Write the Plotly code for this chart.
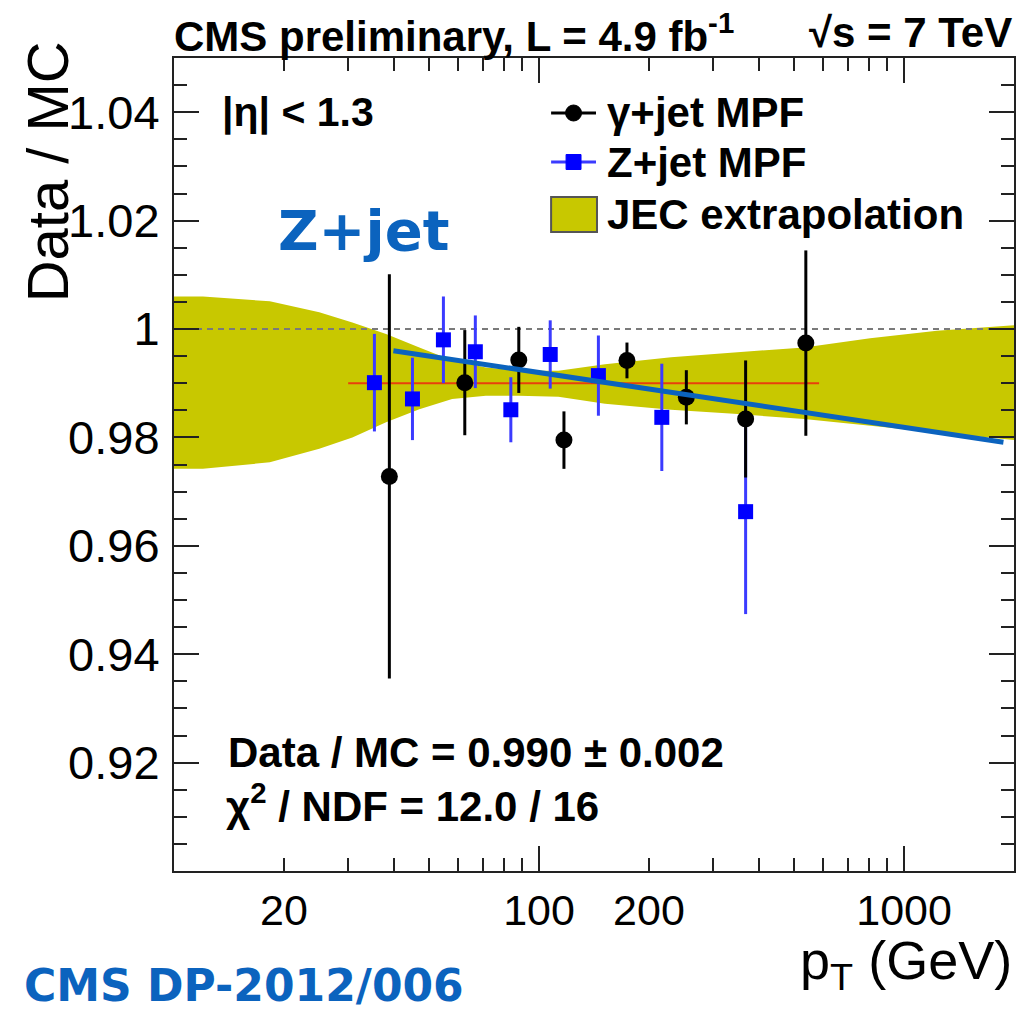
import plotly.graph_objects as go

# ---------------- data ----------------
# JEC extrapolation band (pT, upper, lower)
band_pt = [10, 12, 18.3, 25, 30.8, 38.1, 47, 57.8, 71.5, 88, 113, 151.6, 230, 350, 532, 807, 1230, 2000]
band_hi = [1.0060, 1.0060, 1.0051, 1.0031, 1.0012, 0.9991, 0.9966, 0.9942, 0.9929, 0.9923,
           0.9923, 0.9935, 0.9948, 0.9957, 0.9966, 0.9983, 0.9997, 1.0007]
band_lo = [0.9742, 0.9742, 0.9754, 0.9779, 0.9800, 0.9828, 0.9852, 0.9871, 0.9877, 0.9877,
           0.9875, 0.9862, 0.9851, 0.9843, 0.9834, 0.9822, 0.9809, 0.9795]

# gamma+jet MPF
gam_pt = [38.9, 62.6, 88.0, 117, 174.1, 253.2, 368, 538]
gam_val = [0.9728, 0.9901, 0.9943, 0.9795, 0.9942, 0.9874, 0.9834, 0.9974]
gam_err = [0.0373, 0.0097, 0.0061, 0.0053, 0.0033, 0.0050, 0.0108, 0.0171]

# Z+jet MPF
z_pt = [35.4, 45.0, 54.7, 66.9, 83.7, 107.3, 145.4, 216.9, 368]
z_val = [0.9901, 0.9871, 0.9980, 0.9958, 0.9851, 0.9953, 0.9914, 0.9837, 0.9663]
z_err = [0.0090, 0.0076, 0.0080, 0.0067, 0.0060, 0.0063, 0.0074, 0.0099, 0.0189]

# constant fit and reference
fit_pt = [30, 585]
fit_val = [0.990, 0.990]
ref_pt = [10, 2000]
ref_val = [1.0, 1.0]

# hand-drawn Z+jet trend line
trend_pt = [39.9, 1871]
trend_val = [0.9960, 0.9791]

x_major_labels = [20, 100, 200, 1000]
x_minor = [30, 40, 50, 60, 70, 80, 90, 300, 400, 500, 600, 700, 800, 900, 2000]
y_tickvals = [0.92, 0.94, 0.96, 0.98, 1.00, 1.02, 1.04]
y_ticktext = ["0.92", "0.94", "0.96", "0.98", "1", "1.02", "1.04"]

# ---------------- layout geometry ----------------
W, H = 1018, 1012
L, R, T, B = 174, 1016, 58, 871


def px(x):
    return (x - L) / (R - L)


def py(y):
    return 1 - (y - T) / (B - T)


BAND = "#C8C800"
BLUE_ANN = "#0B63BE"
BOLD = "Liberation Sans"

fig = go.Figure()

fig.add_trace(go.Scatter(
    x=band_pt + band_pt[::-1], y=band_hi + band_lo[::-1],
    fill="toself", fillcolor=BAND, line=dict(width=0, color=BAND),
    mode="lines", hoverinfo="skip", showlegend=False))

fig.add_trace(go.Scatter(
    x=ref_pt, y=ref_val, mode="lines",
    line=dict(color="#7a7a7a", width=2, dash="6px,5px"), showlegend=False))

fig.add_trace(go.Scatter(
    x=fit_pt, y=fit_val, mode="lines",
    line=dict(color="#E8400C", width=2), showlegend=False))

fig.add_trace(go.Scatter(
    x=z_pt, y=z_val, mode="markers",
    marker=dict(symbol="square", size=15, color="#0000FF"),
    error_y=dict(type="data", array=z_err, color="#3b3bff", thickness=3, width=0),
    showlegend=False))

fig.add_trace(go.Scatter(
    x=gam_pt, y=gam_val, mode="markers",
    marker=dict(symbol="circle", size=17, color="black"),
    error_y=dict(type="data", array=gam_err, color="black", thickness=3, width=0),
    showlegend=False))

fig.add_trace(go.Scatter(
    x=trend_pt, y=trend_val, mode="lines",
    line=dict(color=BLUE_ANN, width=5), showlegend=False))

# second x axis for the long decade ticks
fig.add_trace(go.Scatter(x=[100], y=[None], xaxis="x2", showlegend=False, hoverinfo="skip"))

fig.update_layout(
    width=W, height=H,
    margin=dict(l=L, r=W - R, t=T, b=H - B),
    plot_bgcolor="white", paper_bgcolor="white",
    showlegend=False,
    xaxis=dict(
        type="log", range=[1, 3.30103],
        tickmode="array", tickvals=x_major_labels,
        ticktext=[str(v) for v in x_major_labels],
        ticks="inside", ticklen=13, tickwidth=2, tickcolor="#222",
        minor=dict(tickmode="array", tickvals=x_minor, ticks="inside", ticklen=13,
                   tickwidth=2, tickcolor="#222"),
        showline=True, linecolor="#222", linewidth=2, mirror="ticks",
        showgrid=False, zeroline=False,
        tickfont=dict(family="Liberation Sans", size=43, color="black"),
        ticklabelstandoff=0,
    ),
    xaxis2=dict(
        type="log", range=[1, 3.30103], overlaying="x", side="bottom",
        tickmode="array", tickvals=[100, 1000], showticklabels=False,
        ticks="inside", ticklen=25, tickwidth=2, tickcolor="#222",
        showline=False, mirror="ticks", showgrid=False, zeroline=False,
    ),
    yaxis=dict(
        range=[0.90, 1.05],
        tickmode="array", tickvals=y_tickvals, ticktext=y_ticktext,
        ticks="inside", ticklen=25, tickwidth=2, tickcolor="#222",
        minor=dict(dtick=0.005, tick0=0.9, ticks="inside", ticklen=13,
                   tickwidth=2, tickcolor="#222"),
        showline=True, linecolor="#222", linewidth=2, mirror="ticks",
        showgrid=False, zeroline=False,
        tickfont=dict(family="Liberation Sans", size=47, color="black"),
        ticklabelstandoff=3,
    ),
)

anns = []


def text(x, y, s, size, xanchor="left", color="black", family=BOLD, angle=0):
    anns.append(dict(x=px(x), y=py(y), xref="paper", yref="paper", text=s,
                     showarrow=False, xanchor=xanchor, yanchor="middle",
                     textangle=angle,
                     font=dict(family=family, size=size, color=color)))


text(172, 33, "<b>CMS preliminary, L = 4.9 fb<sup>-1</sup></b>", 42)
text(1016, 33, "<b>√s = 7 TeV</b>", 42, xanchor="right")
text(220, 112, "<b>|η| < 1.3</b>", 41)
text(606, 113, "<b>γ+jet MPF</b>", 42)
text(606, 162, "<b>Z+jet MPF</b>", 42)
text(606, 214, "<b>JEC extrapolation</b>", 42)
text(226, 752, "<b>Data / MC = 0.990 ± 0.002</b>", 42)
text(224, 803, "<b>χ<sup>2</sup> / NDF = 12.0 / 16</b>", 42)
text(276, 230, "<b>Z+jet</b>", 56, color=BLUE_ANN, family="DejaVu Sans")
text(22, 985, "<b>CMS DP-2012/006</b>", 44, color=BLUE_ANN, family="DejaVu Sans")
text(1016, 964, "p<sub>T</sub> (GeV)", 54, xanchor="right", family="Liberation Sans")
text(47, 172, "Data / MC", 58, xanchor="center", family="Liberation Sans", angle=-90)

fig.update_layout(annotations=anns)

# legend symbols
shapes = []
shapes.append(dict(type="line", xref="paper", yref="paper", x0=px(552), x1=px(597), y0=py(113), y1=py(113),
                   line=dict(color="black", width=3)))
shapes.append(dict(type="circle", xref="paper", yref="paper", x0=px(566.5), x1=px(582.5), y0=py(105), y1=py(121),
                   fillcolor="black", line=dict(color="black", width=1)))
shapes.append(dict(type="line", xref="paper", yref="paper", x0=px(552), x1=px(597), y0=py(162), y1=py(162),
                   line=dict(color="#3b3bff", width=3)))
shapes.append(dict(type="rect", xref="paper", yref="paper", x0=px(567), x1=px(582), y0=py(154.5), y1=py(169.5),
                   fillcolor="#0000FF", line=dict(color="#0000FF", width=1)))
shapes.append(dict(type="rect", xref="paper", yref="paper", x0=px(552), x1=px(598), y0=py(197), y1=py(232),
                   fillcolor=BAND, line=dict(color="#555", width=2)))
fig.update_layout(shapes=shapes)

fig.write_html("out.html")
